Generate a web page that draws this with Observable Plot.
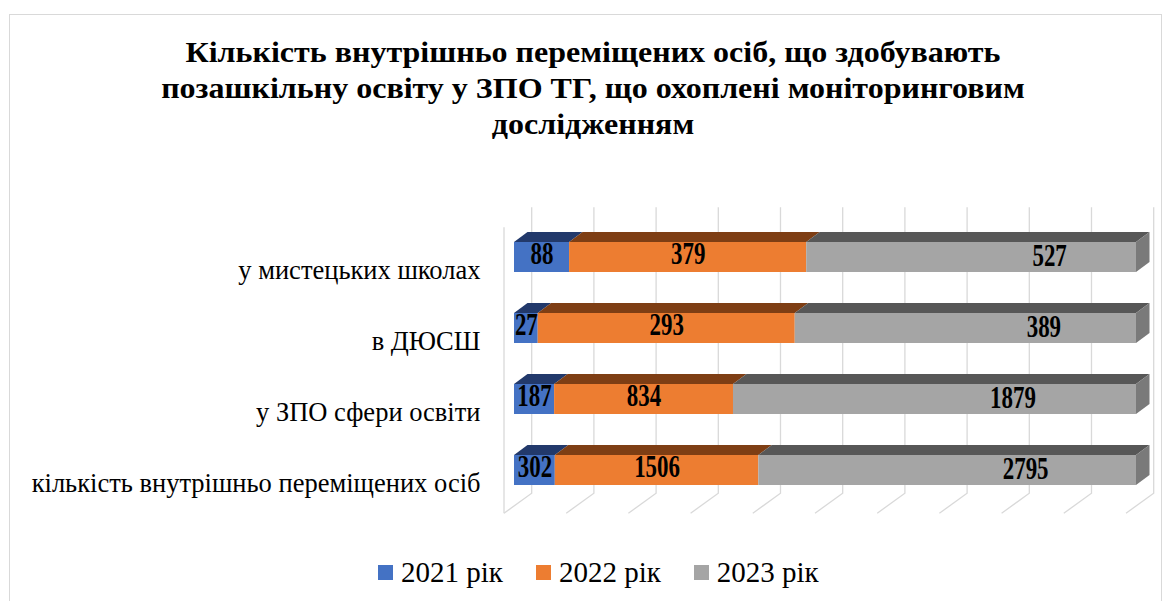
<!DOCTYPE html>
<html><head><meta charset="utf-8">
<script src="https://cdn.jsdelivr.net/npm/d3@7"></script>
<script src="https://cdn.jsdelivr.net/npm/@observablehq/plot@0.6"></script>
<style>
html,body{margin:0;padding:0;width:1171px;height:601px;overflow:hidden;background:#fff;}
#wrap{position:relative;width:1171px;height:601px;font-family:"Liberation Serif","Times New Roman",serif;color:#000;}
#border{position:absolute;left:9px;top:14px;width:1153px;height:640px;border:1px solid #d9d9d9;box-sizing:border-box;}
#chart{position:absolute;left:0;top:0;}
#title{position:absolute;left:15px;width:1156px;top:34px;text-align:center;font-weight:bold;font-size:29px;line-height:36px;white-space:nowrap;transform-origin:578px 0;}
#title span{display:inline-block;}
#legend{position:absolute;left:378px;top:555px;display:flex;gap:33px;align-items:center;font-size:29px;line-height:34px;white-space:nowrap;}
.item{display:flex;align-items:center;gap:8px;}
.sw{width:15px;height:15px;display:inline-block;}
</style></head>
<body><div id="wrap"><div id="border"></div><div id="chart"></div><div id="title"></div><div id="legend"></div></div>
<script>
// ---- data ----
const categories = ["у мистецьких школах", "в ДЮСШ", "у ЗПО сфери освіти", "кількість внутрішньо переміщених осіб"];
const seriesNames = ["2021 рік", "2022 рік", "2023 рік"];
const v2021 = [88, 27, 187, 302];
const v2022 = [379, 293, 834, 1506];
const v2023 = [527, 389, 1879, 2795];
const gridTicks = [0, 0.1, 0.2, 0.3, 0.4, 0.5, 0.6, 0.7, 0.8, 0.9, 1];
const titleLines = ["Кількість внутрішньо переміщених осіб, що здобувають",
  "позашкільну освіту у ЗПО ТГ, що охоплені моніторинговим",
  "дослідженням"];

// ---- styles ----
const frontColors = ["#4472C4", "#ED7D31", "#A5A5A5"];
const topColors = ["#22396B", "#7E3E14", "#575757"];
const sideColor = "#7A7A7A";
const depthX = 13.5, depthY = 10;

// ---- table (normalized stack) ----
const seriesValues = [v2021, v2022, v2023];
const rows = [];
categories.forEach((c, ci) => {
  const total = seriesValues.reduce((s, arr) => s + arr[ci], 0);
  let acc = 0;
  seriesNames.forEach((s, si) => {
    const v = seriesValues[si][ci];
    rows.push({category: c, series: s, si, value: v, x1: acc / total, x2: (acc + v) / total});
    acc += v;
  });
});

function bw(y) { return typeof y.bandwidth === "function" ? y.bandwidth() : y.bandwidth; }

function gridMark(index, scales, values, dim) {
  const x = scales.x;
  const top = dim.marginTop, bottom = dim.height - dim.marginBottom;
  const g = d3.create("svg:g").attr("stroke", "#d9d9d9").attr("stroke-width", 1.3).attr("fill", "none");
  const x0 = x(0);
  g.append("line").attr("x1", x0 - 10).attr("x2", x0 - 10).attr("y1", top + 7).attr("y2", bottom + 7);
  gridTicks.forEach(t => {
    const xf = x(t);
    g.append("polyline").attr("points",
      `${xf + 17.7},${top - 13} ${xf + 17.7},${bottom - 13} ${xf - 10},${bottom + 7}`);
  });
  return g.node();
}

function topMark(index, scales) {
  const x = scales.x, y = scales.y;
  const g = d3.create("svg:g");
  rows.forEach(r => {
    const xs = x(r.x1), xe = x(r.x2), yt = y(r.category);
    g.append("polygon").attr("fill", topColors[r.si])
      .attr("points", `${xs},${yt} ${xe},${yt} ${xe + depthX},${yt - depthY} ${xs + depthX},${yt - depthY}`);
  });
  return g.node();
}

function sideMark(index, scales) {
  const x = scales.x, y = scales.y, b = bw(y);
  const g = d3.create("svg:g");
  rows.filter(r => r.si === seriesNames.length - 1).forEach(r => {
    const xe = x(r.x2), yt = y(r.category);
    g.append("polygon").attr("fill", sideColor)
      .attr("points", `${xe},${yt} ${xe + depthX},${yt - depthY} ${xe + depthX},${yt + b - depthY} ${xe},${yt + b}`);
  });
  return g.node();
}

const lastSeries = seriesNames[seriesNames.length - 1];
const chart = Plot.plot({
  width: 1171, height: 601,
  marginLeft: 514, marginRight: 35, marginTop: 220.25, marginBottom: 94.75,
  x: {domain: [0, 1], axis: null},
  y: {domain: categories, axis: null, paddingInner: 0.58, paddingOuter: 0.29},
  color: {domain: seriesNames, range: frontColors},
  style: {fontFamily: '"Liberation Serif","Times New Roman",serif', background: "transparent", overflow: "visible"},
  marks: [
    gridMark,
    topMark,
    Plot.barX(rows, {x1: "x1", x2: "x2", y: "category", fill: "series"}),
    sideMark,
    Plot.text(categories, {y: d => d, text: d => d, frameAnchor: "left", textAnchor: "end", dx: -34, dy: 13, fontSize: 26.5, fill: "#000"}),
    Plot.text(rows.filter(r => r.series !== lastSeries), {x: r => (r.x1 + r.x2) / 2, y: "category", text: r => String(r.value), dy: -3, fontSize: 31, fontWeight: "bold", fill: "#000"}),
    Plot.text(rows.filter(r => r.series === lastSeries), {x: r => (r.x1 + r.x2) / 2, y: "category", text: r => String(r.value), dx: 78, dy: -1, fontSize: 31, fontWeight: "bold", fill: "#000"})
  ]
});
document.getElementById("chart").appendChild(chart);

// condense bold numeric labels (Times-like narrow look)
chart.querySelectorAll("text").forEach(t => {
  if (/^\d+$/.test(t.textContent.trim())) {
    const tr = t.getAttribute("transform");
    if (tr && tr.includes("translate")) t.setAttribute("transform", tr + " scale(0.74,1)");
    else {
      const xx = +t.getAttribute("x") || 0;
      t.setAttribute("transform", `translate(${xx},0) scale(0.74,1) translate(${-xx},0)`);
    }
  }
});

// title
const title = document.getElementById("title");
titleLines.forEach((l, i) => {
  const s = document.createElement("span");
  s.textContent = l;
  title.appendChild(s);
  if (i < titleLines.length - 1) title.appendChild(document.createElement("br"));
});
const w1 = title.querySelector("span").getBoundingClientRect().width;
title.style.transform = `scaleX(${815 / w1})`;

// legend
const legend = document.getElementById("legend");
seriesNames.forEach((s, i) => {
  const it = document.createElement("div");
  it.className = "item";
  const sw = document.createElement("span");
  sw.className = "sw";
  sw.style.background = frontColors[i];
  const tx = document.createElement("span");
  tx.textContent = s;
  it.appendChild(sw); it.appendChild(tx);
  legend.appendChild(it);
});
</script></body></html>
